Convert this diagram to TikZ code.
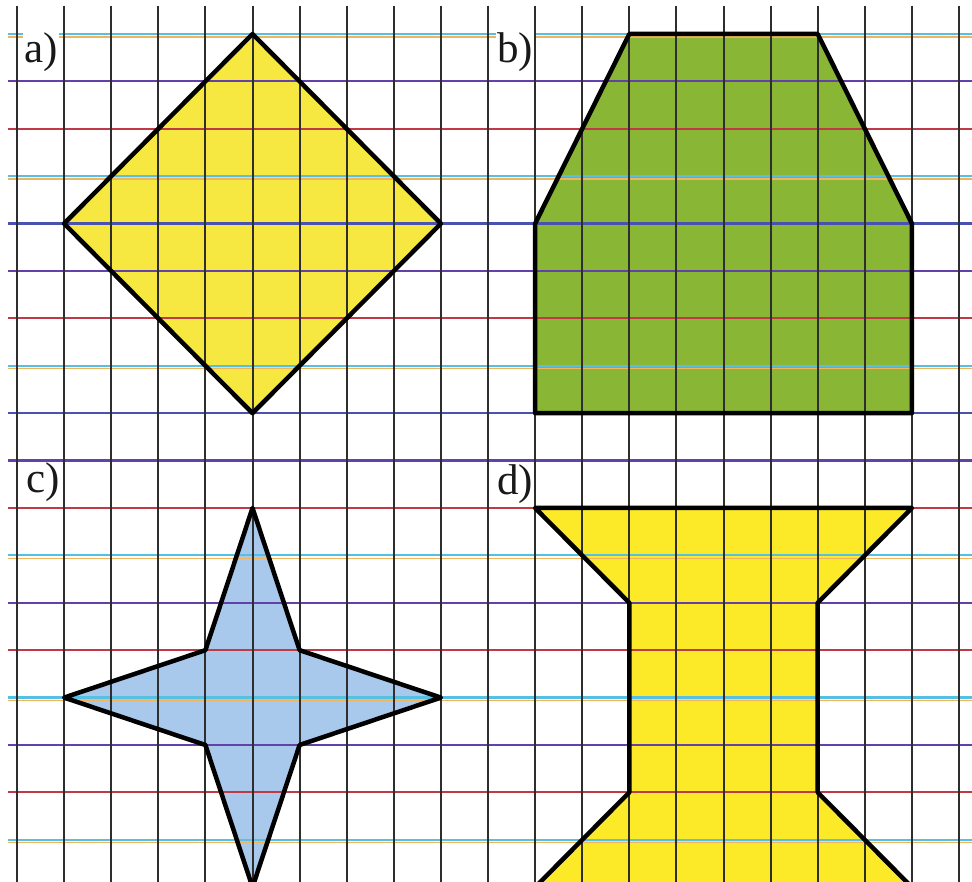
\documentclass[tikz,border=0pt]{standalone}
\usepackage{fontspec}
\setmainfont{Liberation Serif}
\definecolor{gcyan}{HTML}{55C0E4}
\definecolor{gorange}{HTML}{F2B45A}
\definecolor{gblue}{HTML}{4A52B0}
\definecolor{gpurple}{HTML}{6242A8}
\definecolor{gred}{HTML}{C03A46}
\definecolor{gvert}{HTML}{2E2E2E}
\definecolor{fyellowA}{HTML}{F6E840}
\definecolor{fyellowD}{HTML}{FCE928}
\definecolor{fgreen}{HTML}{89B634}
\definecolor{fblue}{HTML}{A8C8EC}
\tikzset{
  cyanline/.style={draw=gcyan, line width=2.2pt},
  orangeline/.style={draw=gorange, line width=1.4pt},
  blueline/.style={draw=gblue, line width=2.2pt},
  purpleline/.style={draw=gpurple, line width=2.2pt},
  redline/.style={draw=gred, line width=2pt},
  vline/.style={draw=gvert, line width=2pt},
  outline/.style={draw=black, line width=4.5pt, line join=round},
  lbl/.style={fill=white, inner sep=1pt, anchor=base west, font=\fontsize{43}{48}\selectfont, text=black!90}
}
\begin{document}
\begin{tikzpicture}[x=47.1pt, y=-47.4pt]
\useasboundingbox (-0.361,-0.717) rectangle (20.276,17.890);
\clip (-0.361,-0.717) rectangle (20.276,17.890);
\fill[white] (-0.361,-0.717) rectangle (20.276,17.890);

% fills
\fill[fyellowA] (5,0) -- (9,4) -- (5,8) -- (1,4) -- cycle;
\fill[fgreen] (13,0) -- (17,0) -- (19,4) -- (19,8) -- (11,8) -- (11,4) -- cycle;
\fill[fblue] (5,10) -- (6,13) -- (9,14) -- (6,15) -- (5,18) -- (4,15) -- (1,14) -- (4,13) -- cycle;
\fill[fyellowD] (11,10) -- (19,10) -- (17,12) -- (17,16) -- (19,18) -- (11,18) -- (13,16) -- (13,12) -- cycle;

% grid: horizontal ruling
\foreach \j in {0,3,7,11,14,17} {
  \draw[orangeline] (-0.19,{\j+0.06}) -- (20.4,{\j+0.06});
  \draw[cyanline] (-0.19,\j) -- (20.4,\j);
}
\foreach \j in {4,8} { \draw[blueline] (-0.19,\j) -- (20.4,\j); }
\foreach \j in {1,5,9,12,15} { \draw[purpleline] (-0.19,\j) -- (20.4,\j); }
\foreach \j in {2,6,10,13,16} { \draw[redline] (-0.19,\j) -- (20.4,\j); }
% grid: vertical lines
\foreach \k in {0,...,20} { \draw[vline] (\k,-0.6) -- (\k,17.95); }

% outlines
\draw[outline] (5,0) -- (9,4) -- (5,8) -- (1,4) -- cycle;
\draw[outline] (13,0) -- (17,0) -- (19,4) -- (19,8) -- (11,8) -- (11,4) -- cycle;
\draw[outline] (5,10) -- (6,13) -- (9,14) -- (6,15) -- (5,18) -- (4,15) -- (1,14) -- (4,13) -- cycle;
\draw[outline] (11,10) -- (19,10) -- (17,12) -- (17,16) -- (19,18) -- (11,18) -- (13,16) -- (13,12) -- cycle;

% labels
\node[lbl] (la) at (0.13,0.612) {a)};
\node[lbl] (lb) at (10.17,0.612) {b)};
\node[lbl] (lc) at (0.17,9.68) {c)};
\node[lbl] (ld) at (10.17,9.72) {d)};
\end{tikzpicture}
\end{document}
